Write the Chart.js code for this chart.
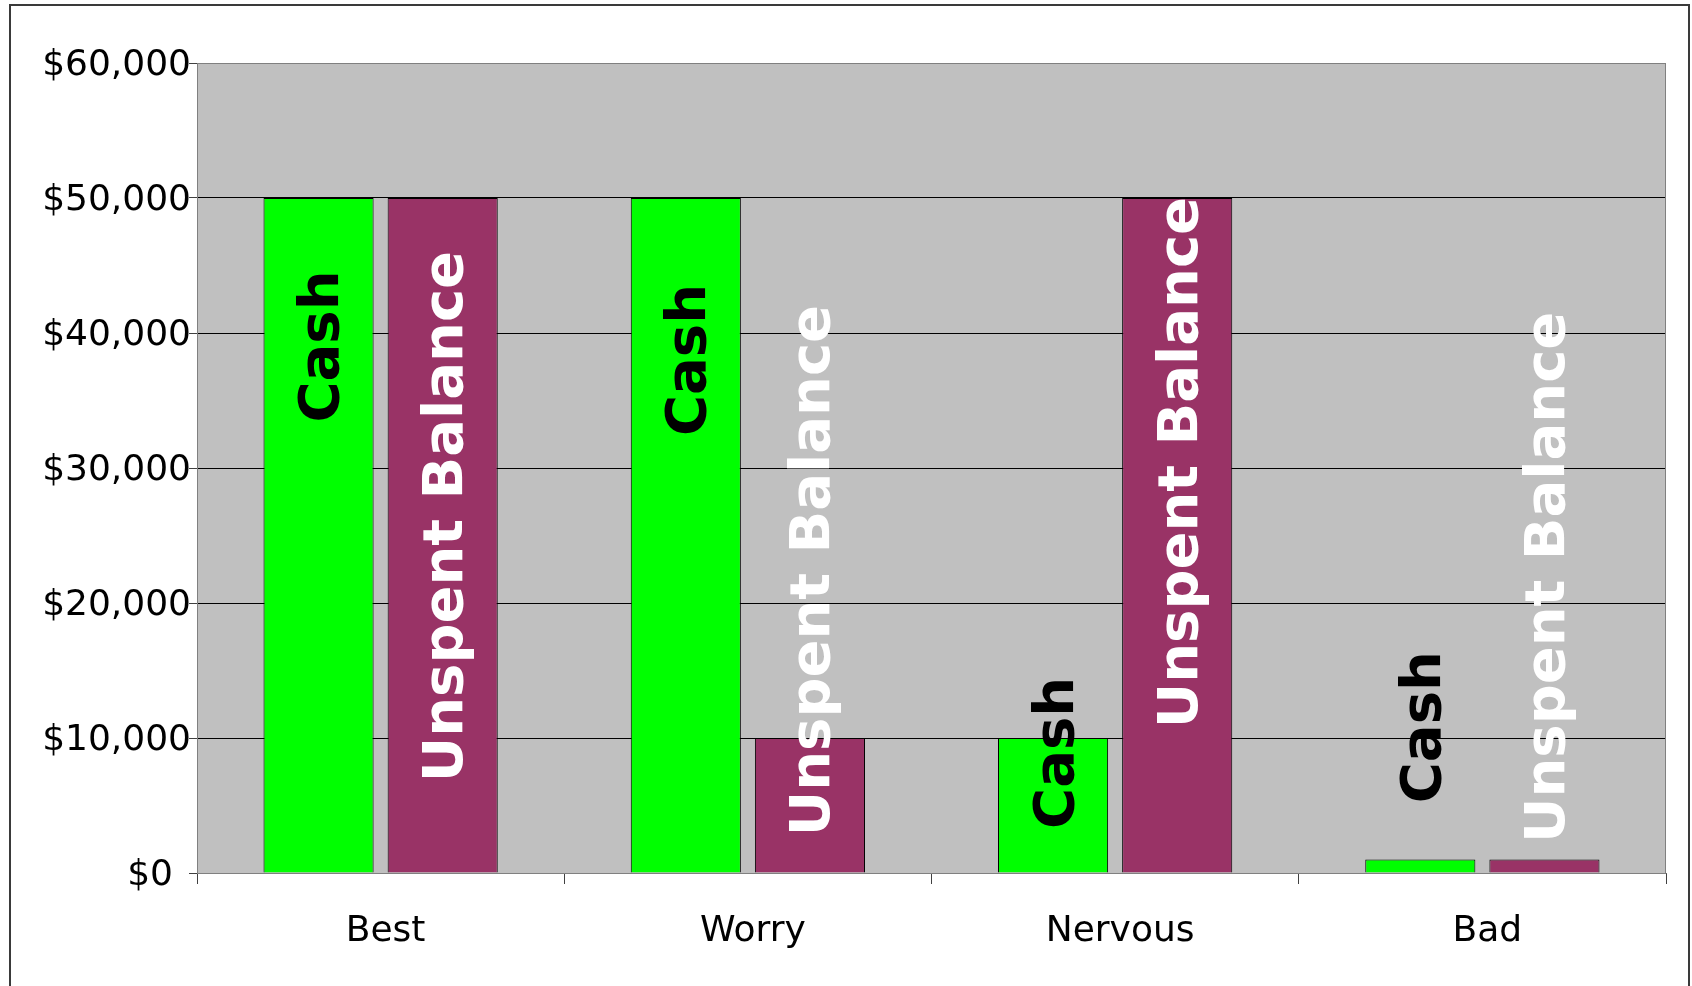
<!DOCTYPE html>
<html>
<head>
<meta charset="utf-8">
<script src="https://cdn.jsdelivr.net/npm/chart.js@4/dist/chart.umd.min.js"></script>
<style>
  html, body { margin: 0; padding: 0; background: #fff; overflow: hidden; }
  #wrap { width: 1692px; height: 986px; position: relative; }
</style>
</head>
<body>
<div id="wrap"><canvas id="mycanvas"></canvas></div>
<script>
// chart values
var categories = ['Best', 'Worry', 'Nervous', 'Bad'];
var cashValues = [50000, 50000, 10000, 1000];
var unspentValues = [50000, 10000, 50000, 1000];
var seriesNames = ['Cash', 'Unspent Balance'];
var yMax = 60000;
var yStep = 10000;

Chart.defaults.font.family = "'DejaVu Sans', sans-serif";
Chart.defaults.color = '#000';

// grey plot area + outer frame
var frame = {
  id: 'frame',
  beforeDraw: function(chart) {
    var c = chart.ctx, a = chart.chartArea;
    c.save();
    c.fillStyle = '#fff';
    c.fillRect(0, 0, chart.width, chart.height);
    c.fillStyle = '#c0c0c0';
    c.fillRect(a.left, a.top, a.right - a.left, a.bottom - a.top);
    c.restore();
  },
  afterDraw: function(chart) {
    var c = chart.ctx, a = chart.chartArea;
    c.save();
    c.strokeStyle = '#808080';
    c.lineWidth = 1;
    c.strokeRect(a.left + 0.5, a.top + 0.5, a.right - a.left - 1, a.bottom - a.top);
    c.strokeStyle = '#3a3a3a';
    c.lineWidth = 2;
    c.strokeRect(10, 5, chart.width - 13, chart.height + 20);
    c.restore();
  }
};

// rotated labels inside / above the bars
var barLabels = {
  id: 'barLabels',
  afterDatasetsDraw: function(chart, args, opts) {
    var c = chart.ctx;
    var yScale = chart.scales.y;
    chart.data.datasets.forEach(function(ds, di) {
      var meta = chart.getDatasetMeta(di);
      meta.data.forEach(function(bar, i) {
        var y = yScale.getPixelForValue(opts.centers[di][i]);
        c.save();
        c.translate(bar.x + 5, y);
        c.rotate(-Math.PI / 2);
        c.font = 'bold 56px "DejaVu Sans"';
        c.fillStyle = opts.colors[di];
        c.textAlign = 'center';
        c.textBaseline = 'middle';
        c.fillText(ds.label, 0, 0);
        c.restore();
      });
    });
  }
};

var chartdata = {
  labels: categories,
  datasets: [
    {
      label: seriesNames[0],
      backgroundColor: '#00ff00',
      borderColor: '#000',
      borderWidth: 1,
      data: cashValues
    },
    {
      label: seriesNames[1],
      backgroundColor: '#993366',
      borderColor: '#000',
      borderWidth: 1,
      data: unspentValues
    }
  ]
};

var ctx = document.getElementById('mycanvas');

var myChart = new Chart(ctx, {
  type: 'bar',
  data: chartdata,
  plugins: [frame, barLabels],
  options: {
    responsive: true,
    maintainAspectRatio: false,
    animation: false,
    datasets: {
      bar: { categoryPercentage: 0.676, barPercentage: 0.887 }
    },
    layout: { padding: { top: 63, right: 26, left: 0, bottom: 0 } },
    plugins: {
      legend: { display: false },
      tooltip: { enabled: false },
      barLabels: {
        colors: ['#000', '#fff'],
        centers: [[39000, 38000, 8900, 10800], [26400, 22400, 30400, 21900]]
      }
    },
    scales: {
      x: {
        afterFit: function(s) { s.height = 113; },
        grid: {
          offset: true,
          drawOnChartArea: false,
          drawTicks: true,
          tickLength: 11,
          tickColor: '#404040'
        },
        border: { color: '#606060', width: 1 },
        ticks: { font: { size: 36 }, padding: 26, labelOffset: 5, color: '#000' }
      },
      y: {
        min: 0,
        max: yMax,
        afterFit: function(s) { s.width = 197; },
        grid: {
          color: function(c) {
            return (c.tick && (c.tick.value === 0 || c.tick.value === yMax)) ? '#808080' : '#000';
          },
          tickLength: 8,
          tickColor: '#404040'
        },
        border: { color: '#606060', width: 1 },
        ticks: {
          stepSize: yStep,
          padding: -2,
          labelOffset: 3,
          font: { size: 36 },
          color: '#000',
          callback: function(v) {
            // zero is written with a trailing gap, like the original sheet
            return v === 0 ? '$0\u2002' : '$' + v.toLocaleString('en-US');
          }
        }
      }
    }
  }
});
</script>
</body>
</html>
